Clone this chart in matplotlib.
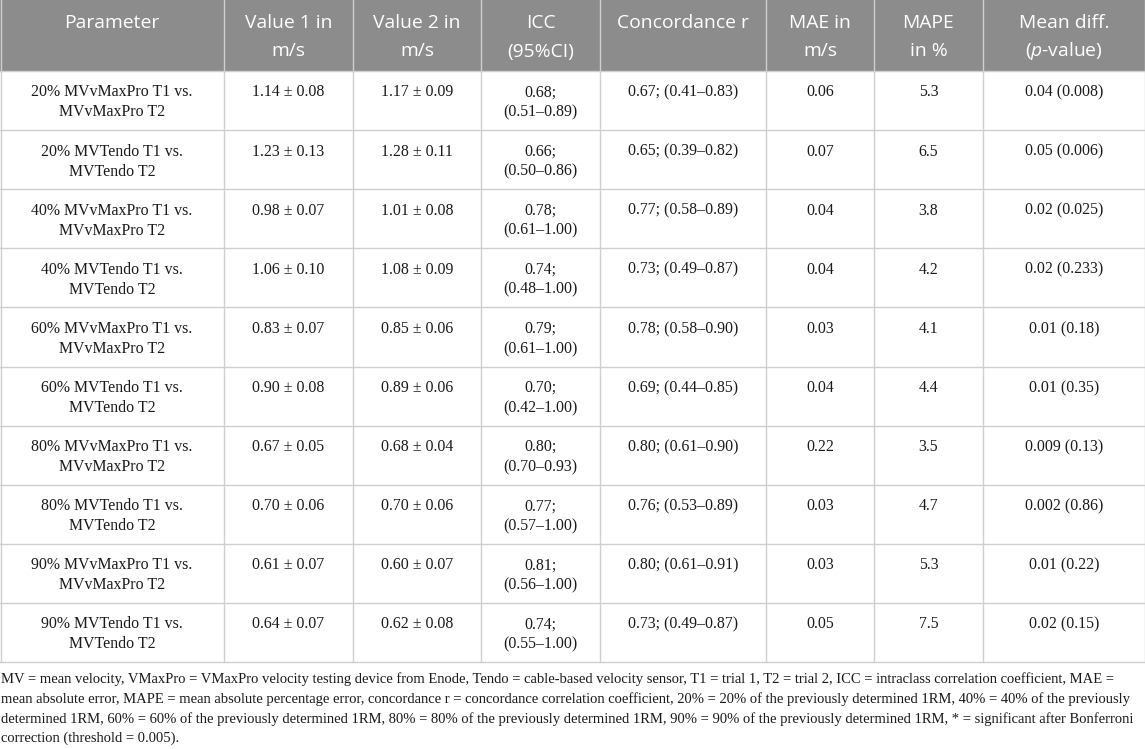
import matplotlib
matplotlib.use("Agg")
import matplotlib.pyplot as plt

# ---------------- data ----------------
headers = ["Parameter", "Value 1 in\nm/s", "Value 2 in\nm/s", "ICC\n(95%CI)",
           "Concordance r", "MAE in\nm/s", "MAPE\nin %", "Mean diff.\n($\\it{p}$-value)"]
params = ["20% MVvMaxPro T1 vs.\nMVvMaxPro T2", "20% MVTendo T1 vs.\nMVTendo T2",
          "40% MVvMaxPro T1 vs.\nMVvMaxPro T2", "40% MVTendo T1 vs.\nMVTendo T2",
          "60% MVvMaxPro T1 vs.\nMVvMaxPro T2", "60% MVTendo T1 vs.\nMVTendo T2",
          "80% MVvMaxPro T1 vs.\nMVvMaxPro T2", "80% MVTendo T1 vs.\nMVTendo T2",
          "90% MVvMaxPro T1 vs.\nMVvMaxPro T2", "90% MVTendo T1 vs.\nMVTendo T2"]
value1 = ["1.14 ± 0.08", "1.23 ± 0.13", "0.98 ± 0.07", "1.06 ± 0.10", "0.83 ± 0.07",
          "0.90 ± 0.08", "0.67 ± 0.05", "0.70 ± 0.06", "0.61 ± 0.07", "0.64 ± 0.07"]
value2 = ["1.17 ± 0.09", "1.28 ± 0.11", "1.01 ± 0.08", "1.08 ± 0.09", "0.85 ± 0.06",
          "0.89 ± 0.06", "0.68 ± 0.04", "0.70 ± 0.06", "0.60 ± 0.07", "0.62 ± 0.08"]
icc = ["0.68;\n(0.51–0.89)", "0.66;\n(0.50–0.86)", "0.78;\n(0.61–1.00)", "0.74;\n(0.48–1.00)",
       "0.79;\n(0.61–1.00)", "0.70;\n(0.42–1.00)", "0.80;\n(0.70–0.93)", "0.77;\n(0.57–1.00)",
       "0.81;\n(0.56–1.00)", "0.74;\n(0.55–1.00)"]
concordance = ["0.67; (0.41–0.83)", "0.65; (0.39–0.82)", "0.77; (0.58–0.89)", "0.73; (0.49–0.87)",
               "0.78; (0.58–0.90)", "0.69; (0.44–0.85)", "0.80; (0.61–0.90)", "0.76; (0.53–0.89)",
               "0.80; (0.61–0.91)", "0.73; (0.49–0.87)"]
mae = ["0.06", "0.07", "0.04", "0.04", "0.03", "0.04", "0.22", "0.03", "0.03", "0.05"]
mape = ["5.3", "6.5", "3.8", "4.2", "4.1", "4.4", "3.5", "4.7", "5.3", "7.5"]
mean_diff = ["0.04 (0.008)", "0.05 (0.006)", "0.02 (0.025)", "0.02 (0.233)", "0.01 (0.18)",
             "0.01 (0.35)", "0.009 (0.13)", "0.002 (0.86)", "0.01 (0.22)", "0.02 (0.15)"]
footnote = [
    "MV = mean velocity, VMaxPro = VMaxPro velocity testing device from Enode, Tendo = cable-based velocity sensor, T1 = trial 1, T2 = trial 2, ICC = intraclass correlation coefficient, MAE =",
    "mean absolute error, MAPE = mean absolute percentage error, concordance r = concordance correlation coefficient, 20% = 20% of the previously determined 1RM, 40% = 40% of the previously",
    "determined 1RM, 60% = 60% of the previously determined 1RM, 80% = 80% of the previously determined 1RM, 90% = 90% of the previously determined 1RM, * = significant after Bonferroni",
    "correction (threshold = 0.005).",
]
columns = [params, value1, value2, icc, concordance, mae, mape, mean_diff]

# ---------------- layout ----------------
W, H = 1145, 749
col_edges = [0, 224, 353, 481, 600, 766, 874, 983, 1145]
header_h = 71
row_h = 59.1
header_color = "#8c8c8c"
line_color = "#cfcfcf"

plt.rcParams["mathtext.fontset"] = "custom"
plt.rcParams["mathtext.rm"] = "Open Sans"
plt.rcParams["mathtext.it"] = "Open Sans:italic"

fig = plt.figure(figsize=(W / 100, H / 100), dpi=100)
ax = fig.add_axes([0, 0, 1, 1])
ax.set_xlim(0, W)
ax.set_ylim(H, 0)
ax.axis("off")

n_rows = len(params)
table_bottom = header_h + n_rows * row_h

# header background
ax.add_patch(plt.Rectangle((0, 0), W, header_h, facecolor=header_color, edgecolor="none", zorder=0))

# grid lines
for x in col_edges:
    xx = min(max(x, 0.5), W - 0.5)
    ax.plot([xx, xx], [0, table_bottom], color=line_color, lw=1.0, zorder=1)
for i in range(n_rows + 1):
    y = header_h + i * row_h
    ax.plot([0, W], [y, y], color=line_color, lw=1.0, zorder=1)

# header text
for j, h in enumerate(headers):
    cx = (col_edges[j] + col_edges[j + 1]) / 2
    for k, part in enumerate(h.split("\n")):
        ax.text(cx, 23 + k * 28.5, part, ha="center", va="center", color="white",
                fontsize=13.9, family="Open Sans", zorder=2)

# body text
for j, col in enumerate(columns):
    cx = (col_edges[j] + col_edges[j + 1]) / 2
    for i, val in enumerate(col):
        top = header_h + i * row_h
        for k, part in enumerate(val.split("\n")):
            ax.text(cx, top + 21.5 + k * 20, part, ha="center", va="center", color="#1a1a1a",
                    fontsize=11.4, family="Liberation Serif", zorder=2)

# footnote, sized so the longest line fills the width
renderer = fig.canvas.get_renderer()
fs = 11.0
probe = ax.text(0, 0, footnote[1], fontsize=fs, family="Liberation Serif")
wpx = probe.get_window_extent(renderer).width
probe.remove()
fs = fs * 1141 / wpx
for k, line in enumerate(footnote):
    ax.text(1, table_bottom + 17.5 + k * 19.7, line, ha="left", va="center", color="#1a1a1a",
            fontsize=fs, family="Liberation Serif", zorder=2)

fig.savefig("out.png", dpi=100)
